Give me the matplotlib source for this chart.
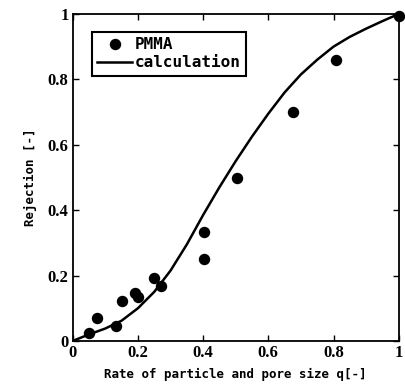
import matplotlib.pyplot as plt

# measured PMMA rejection
q_pmma = [0.05, 0.075, 0.133, 0.15, 0.19, 0.20, 0.249, 0.27, 0.403, 0.403, 0.505, 0.677, 0.808, 1.0]
rej_pmma = [0.024, 0.071, 0.047, 0.123, 0.148, 0.134, 0.192, 0.169, 0.332, 0.252, 0.497, 0.699, 0.859, 0.995]

# calculated curve
q_calc = [0, 0.05, 0.1, 0.15, 0.2, 0.25, 0.3, 0.35, 0.4, 0.45, 0.5, 0.55, 0.6, 0.65,
          0.7, 0.75, 0.8, 0.85, 0.9, 0.95, 1.0]
rej_calc = [0, 0.02, 0.038, 0.062, 0.10, 0.15, 0.215, 0.295, 0.385, 0.47, 0.55, 0.625,
            0.695, 0.76, 0.815, 0.86, 0.90, 0.93, 0.955, 0.978, 1.0]

ticks = [0, 0.2, 0.4, 0.6, 0.8, 1]
tick_labels = ['0', '0.2', '0.4', '0.6', '0.8', '1']

fig = plt.figure(figsize=(4.05, 3.87), dpi=100)
ax = fig.add_axes([0.1795, 0.119, 0.805, 0.845])

ax.plot(q_pmma, rej_pmma, 'o', color='black', markersize=7.2, label='PMMA', clip_on=False)
ax.plot(q_calc, rej_calc, '-', color='black', linewidth=1.8, label='calculation',
        solid_joinstyle='round')

ax.set_xlim(0, 1)
ax.set_ylim(0, 1)
ax.set_xticks(ticks)
ax.set_yticks(ticks)
ax.set_xticklabels(tick_labels, fontfamily='Liberation Serif', fontweight='bold', fontsize=12)
ax.set_yticklabels(tick_labels, fontfamily='Liberation Serif', fontweight='bold', fontsize=12)
ax.tick_params(direction='in', top=True, right=True, length=4, width=1, pad=3)
for s in ax.spines.values():
    s.set_linewidth(1.3)

ax.set_xlabel('Rate of particle and pore size q[-]', fontfamily='DejaVu Sans Mono',
              fontweight='bold', fontsize=9, labelpad=5)
ax.set_ylabel('Rejection [-]', fontfamily='DejaVu Sans Mono',
              fontweight='bold', fontsize=9, labelpad=8)

leg = ax.legend(loc='upper left', bbox_to_anchor=(0.058, 0.946), borderaxespad=0,
                prop={'family': 'DejaVu Sans Mono', 'weight': 'bold', 'size': 11.5},
                frameon=True, fancybox=False, handlelength=2.2, handletextpad=0.15,
                borderpad=0.35, labelspacing=0.2)
leg.get_frame().set_edgecolor('black')
leg.get_frame().set_linewidth(1.5)
leg.get_frame().set_alpha(1)

plt.savefig('out.png', dpi=100)
